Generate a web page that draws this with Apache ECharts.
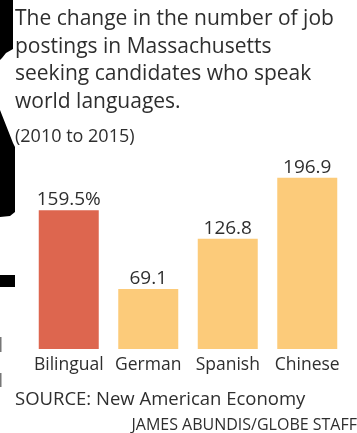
<!DOCTYPE html>
<html>
<head>
<meta charset="utf-8">
<script src="https://cdn.jsdelivr.net/npm/echarts@6/dist/echarts.min.js"></script>
<style>
  html, body { margin: 0; padding: 0; background: #fff; }
  #chart { width: 357px; height: 433px; }
</style>
</head>
<body>
<div id="chart"></div>
<script>
// Job postings growth by language skill, Massachusetts 2010-2015
const categories = ['Bilingual', 'German', 'Spanish', 'Chinese'];
const changePct = [159.5, 69.1, 126.8, 196.9];
const valueLabels = ['159.5%', '69.1', '126.8', '196.9'];
const highlightIndex = 0;

const RED = '#dd664f';
const GOLD = '#fccb7a';
const TEXT = '#2e2e2e';
const FONT = '"Open Sans", "Noto Sans", sans-serif';

const chart = echarts.init(document.getElementById('chart'), null, { renderer: 'canvas' });

chart.setOption({
  backgroundColor: '#ffffff',
  animation: false,
  title: [
    {
      text: 'The change in the number of job\npostings in Massachusetts\nseeking candidates who speak\nworld languages.',
      left: 15,
      top: 5.5,
      padding: 0,
      textStyle: { fontFamily: FONT, fontSize: 21, fontWeight: 'normal', color: TEXT, lineHeight: 27.6 }
    },
    {
      text: '(2010 to 2015)',
      left: 15,
      top: 128,
      padding: 0,
      textStyle: { fontFamily: FONT, fontSize: 18, fontWeight: 'normal', color: TEXT }
    },
    {
      text: 'SOURCE: New American Economy',
      left: 15,
      top: 390.5,
      padding: 0,
      textStyle: { fontFamily: FONT, fontSize: 18.5, fontWeight: 'normal', color: TEXT }
    },
    {
      text: 'JAMES ABUNDIS/GLOBE STAFF',
      right: 0,
      top: 417,
      padding: 0,
      textStyle: { fontFamily: FONT, fontSize: 16, fontWeight: 'normal', color: TEXT }
    }
  ],
  grid: { left: 29, right: 10, top: 175, bottom: 84, containLabel: false },
  xAxis: {
    type: 'category',
    data: categories,
    axisLine: { show: false },
    axisTick: { show: false },
    axisLabel: { margin: 7, fontFamily: FONT, fontSize: 17.5, color: TEXT, interval: 0 }
  },
  yAxis: {
    type: 'value',
    min: 0,
    max: 200,
    show: false,
    splitLine: { show: false }
  },
  series: [{
    type: 'bar',
    barWidth: 60,
    data: changePct.map((v, i) => ({
      value: v,
      itemStyle: { color: i === highlightIndex ? RED : GOLD }
    })),
    label: {
      show: true,
      position: 'top',
      distance: 1,
      fontFamily: FONT,
      fontSize: 19,
      color: TEXT,
      formatter: p => valueLabels[p.dataIndex]
    }
  }],
  graphic: [
    // dark page-edge scraps along the left margin
    { type: 'polygon', shape: { points: [[0,0],[13,0],[13,49],[6,53],[2,58],[0,60]] }, style: { fill: '#000' } },
    { type: 'polygon', shape: { points: [[0,110],[13,143],[15,147],[15,212],[10,216],[0,217]] }, style: { fill: '#000' } },
    { type: 'rect', shape: { x: 0, y: 275, width: 15, height: 12 }, style: { fill: '#000' } },
    { type: 'rect', shape: { x: 0, y: 337, width: 1.5, height: 15 }, style: { fill: '#777' } },
    { type: 'rect', shape: { x: 0, y: 373, width: 1.5, height: 14 }, style: { fill: '#777' } }
  ]
});
</script>
</body>
</html>
